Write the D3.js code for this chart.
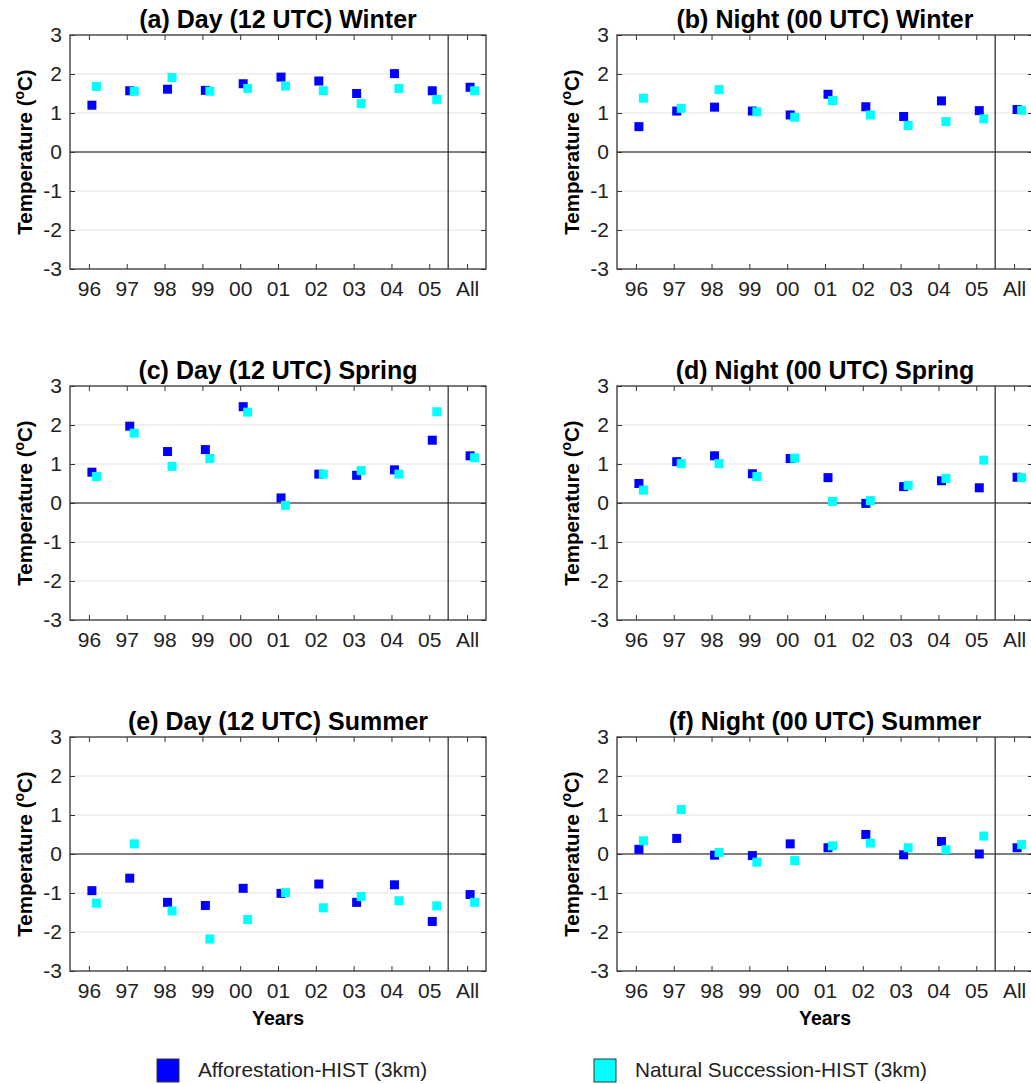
<!DOCTYPE html>
<html lang="en">
<head>
<meta charset="UTF-8">
<title>Temperature differences by year</title>
<script src="https://d3js.org/d3.v7.min.js"></script>
<style>
  body { margin: 0; background: #fff; }
  svg { display: block; font-family: "Liberation Sans", Arial, Helvetica, sans-serif; }
  .title { font-weight: bold; font-size: 25px; }
  .ylab { font-weight: bold; font-size: 20.5px; }
  .xlab { font-weight: bold; font-size: 19.5px; }
  .tick text { font-family: "Liberation Sans", Arial, Helvetica, sans-serif; font-size: 21px; fill: #222; }
  .legend text { font-size: 20.8px; fill: #222; }
</style>
</head>
<body>
<script>
const years = ["96", "97", "98", "99", "00", "01", "02", "03", "04", "05", "All"];
const yTicks = [-3, -2, -1, 0, 1, 2, 3];
const titles = [
  "(a) Day (12 UTC) Winter", "(b) Night (00 UTC) Winter",
  "(c) Day (12 UTC) Spring", "(d) Night (00 UTC) Spring",
  "(e) Day (12 UTC) Summer", "(f) Night (00 UTC) Summer"
];
const seriesNames = ["Afforestation-HIST (3km)", "Natural Succession-HIST (3km)"];

// values (°C)
const dayWinterAff   = [1.20, 1.57, 1.61, 1.58, 1.75, 1.92, 1.82, 1.50, 2.01, 1.57, 1.66];
const dayWinterNat   = [1.68, 1.56, 1.91, 1.56, 1.63, 1.69, 1.57, 1.24, 1.63, 1.35, 1.57];
const nightWinterAff = [0.65, 1.05, 1.15, 1.05, 0.95, 1.48, 1.16, 0.91, 1.31, 1.06, 1.09];
const nightWinterNat = [1.38, 1.12, 1.60, 1.03, 0.89, 1.32, 0.95, 0.68, 0.78, 0.85, 1.07];
const daySpringAff   = [0.79, 1.97, 1.32, 1.37, 2.47, 0.13, 0.74, 0.71, 0.85, 1.61, 1.21];
const daySpringNat   = [0.68, 1.79, 0.94, 1.14, 2.33, -0.06, 0.74, 0.83, 0.74, 2.34, 1.16];
const nightSpringAff = [0.50, 1.06, 1.21, 0.75, 1.14, 0.65, -0.01, 0.42, 0.57, 0.39, 0.66];
const nightSpringNat = [0.33, 1.01, 1.01, 0.68, 1.15, 0.04, 0.06, 0.45, 0.63, 1.10, 0.65];
const daySummerAff   = [-0.94, -0.62, -1.24, -1.32, -0.88, -1.01, -0.77, -1.24, -0.79, -1.73, -1.04];
const daySummerNat   = [-1.26, 0.26, -1.46, -2.18, -1.68, -0.99, -1.38, -1.09, -1.20, -1.33, -1.24];
const nightSummerAff = [0.12, 0.40, -0.03, -0.04, 0.26, 0.16, 0.50, -0.02, 0.32, 0.00, 0.16];
const nightSummerNat = [0.34, 1.14, 0.04, -0.21, -0.17, 0.21, 0.28, 0.16, 0.11, 0.46, 0.24];

const affSeries = [dayWinterAff, nightWinterAff, daySpringAff, nightSpringAff, daySummerAff, nightSummerAff];
const natSeries = [dayWinterNat, nightWinterNat, daySpringNat, nightSpringNat, daySummerNat, nightSummerNat];

const colors = ["#0000ff", "#00ffff"];
const offsets = [3, 7.5];     // horizontal shift of each series (px)
const markerSize = 9;

const W = 1031, H = 1084;
const colLeft = [70, 617];
const rowTop = [35, 386, 737];
const pw = 416, ph = 234;

const svg = d3.select("body").append("svg")
  .attr("width", W)
  .attr("height", H);

const x = d3.scalePoint().domain(years).range([0, pw]).padding(0.5);
const y = d3.scaleLinear().domain([-3, 3]).range([ph, 0]);

titles.forEach((t, i) => {
  const col = i % 2, row = Math.floor(i / 2);
  const g = svg.append("g")
    .attr("transform", `translate(${colLeft[col]},${rowTop[row]})`);

  // grid
  g.append("g").selectAll("line")
    .data(yTicks.filter(v => v !== 0 && Math.abs(v) < 3))
    .join("line")
    .attr("x1", 0).attr("x2", pw)
    .attr("y1", d => y(d)).attr("y2", d => y(d))
    .attr("stroke", "#e3e3e3").attr("stroke-width", 1);

  // zero line
  g.append("line")
    .attr("x1", 0).attr("x2", pw)
    .attr("y1", y(0)).attr("y2", y(0))
    .attr("stroke", "#000").attr("stroke-width", 1.2);

  // separator before "All"
  const sep = x("05") + x.step() / 2;
  g.append("line")
    .attr("x1", sep).attr("x2", sep)
    .attr("y1", 0).attr("y2", ph)
    .attr("stroke", "#333").attr("stroke-width", 1.3);

  // axes, MATLAB-style inward ticks
  const ax = (axis, tr) => {
    const a = g.append("g").attr("transform", tr || null).call(axis);
    a.select(".domain").remove();
    a.selectAll(".tick line").attr("stroke", "#333");
    return a;
  };
  ax(d3.axisLeft(y).tickValues(yTicks).tickFormat(d => String(d)).tickSize(-5).tickPadding(8));
  ax(d3.axisRight(y).tickValues(yTicks).tickSize(-5).tickFormat(""), `translate(${pw},0)`);
  ax(d3.axisTop(x).tickSize(-5).tickFormat(""));
  ax(d3.axisBottom(x).tickSize(-5).tickPadding(12), `translate(0,${ph})`);

  // box
  g.append("rect")
    .attr("width", pw).attr("height", ph)
    .attr("fill", "none").attr("stroke", "#333").attr("stroke-width", 1.3);

  // markers
  [affSeries[i], natSeries[i]].forEach((vals, s) => {
    g.append("g").selectAll("rect")
      .data(vals)
      .join("rect")
      .attr("x", (d, k) => x(years[k]) + offsets[s] - markerSize / 2)
      .attr("y", d => y(d) - markerSize / 2)
      .attr("width", markerSize).attr("height", markerSize)
      .attr("fill", colors[s]);
  });

  // title
  g.append("text").attr("class", "title")
    .attr("x", pw / 2).attr("y", -7)
    .attr("text-anchor", "middle")
    .text(t);

  // y label
  const yl = g.append("text").attr("class", "ylab")
    .attr("transform", `translate(-38,${ph / 2}) rotate(-90)`)
    .attr("text-anchor", "middle");
  yl.append("tspan").text("Temperature (");
  yl.append("tspan").attr("baseline-shift", "super").attr("font-size", "14px").text("o");
  yl.append("tspan").text("C)");

  // x label on bottom row
  if (row === 2) {
    g.append("text").attr("class", "xlab")
      .attr("x", pw / 2).attr("y", ph + 54)
      .attr("text-anchor", "middle")
      .text("Years");
  }
});

// legend
const legX = [157, 594];
const legend = svg.append("g").attr("class", "legend");
seriesNames.forEach((name, s) => {
  legend.append("rect")
    .attr("x", legX[s]).attr("y", 1059)
    .attr("width", 22).attr("height", 23)
    .attr("fill", colors[s]).attr("stroke", "#333").attr("stroke-width", 1);
  legend.append("text")
    .attr("x", legX[s] + 41).attr("y", 1077)
    .text(name);
});
</script>
</body>
</html>
